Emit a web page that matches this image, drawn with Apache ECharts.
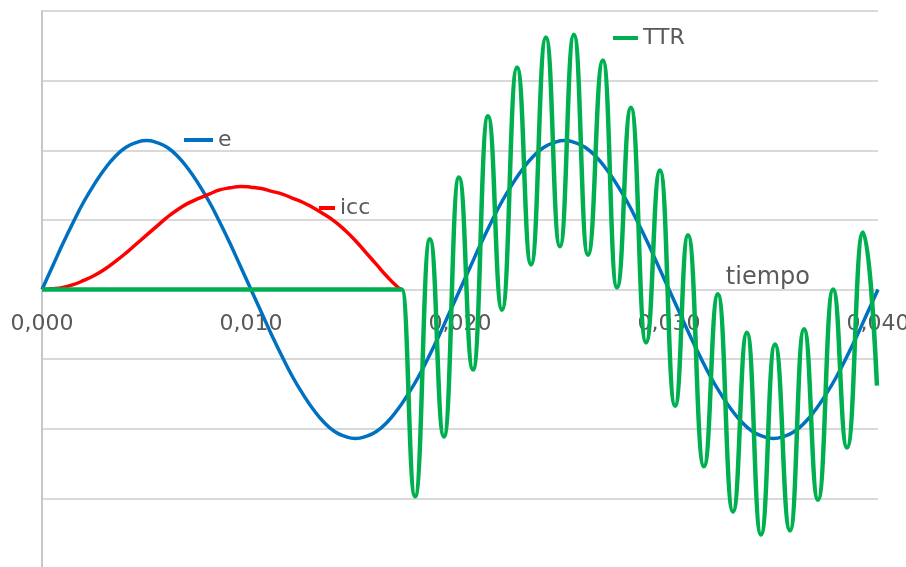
<!DOCTYPE html>
<html>
<head>
<meta charset="utf-8">
<script src="https://cdn.jsdelivr.net/npm/echarts@6/dist/echarts.min.js"></script>
<style>
  html, body { margin: 0; padding: 0; background: #ffffff; }
  #chart { width: 906px; height: 567px; }
</style>
</head>
<body>
<div id="chart"></div>
<script>
// Time axis (seconds) and its tick labels
const xTicks = [0, 0.01, 0.02, 0.03, 0.04];
const xTickLabels = ['0,000', '0,010', '0,020', '0,030', '0,040'];
const xStep = 0.01;

// Source voltage e, sampled every half millisecond
const eTimesMs = [0, 0.5, 1, 1.5, 2, 2.5, 3, 3.5, 4, 4.5, 5, 5.5, 6, 6.5, 7, 7.5, 8, 8.5, 9, 9.5,
  10, 10.5, 11, 11.5, 12, 12.5, 13, 13.5, 14, 14.5, 15, 15.5, 16, 16.5, 17, 17.5, 18, 18.5, 19, 19.5,
  20, 20.5, 21, 21.5, 22, 22.5, 23, 23.5, 24, 24.5, 25, 25.5, 26, 26.5, 27, 27.5, 28, 28.5, 29, 29.5,
  30, 30.5, 31, 31.5, 32, 32.5, 33, 33.5, 34, 34.5, 35, 35.5, 36, 36.5, 37, 37.5, 38, 38.5, 39, 39.5, 40];
const eValues = [0, 0.33, 0.66, 0.97, 1.26, 1.51, 1.73, 1.91, 2.04, 2.11, 2.14, 2.11, 2.04, 1.91, 1.73, 1.51, 1.26, 0.97, 0.66, 0.33,
  0, -0.33, -0.66, -0.97, -1.26, -1.51, -1.73, -1.91, -2.04, -2.11, -2.14, -2.11, -2.04, -1.91, -1.73, -1.51, -1.26, -0.97, -0.66, -0.33,
  0, 0.33, 0.66, 0.97, 1.26, 1.51, 1.73, 1.91, 2.04, 2.11, 2.14, 2.11, 2.04, 1.91, 1.73, 1.51, 1.26, 0.97, 0.66, 0.33,
  0, -0.33, -0.66, -0.97, -1.26, -1.51, -1.73, -1.91, -2.04, -2.11, -2.14, -2.11, -2.04, -1.91, -1.73, -1.51, -1.26, -0.97, -0.66, -0.33, 0];

// Short-circuit current icc until the breaker clears it
const iccTimesMs = [0, 0.5, 1, 1.5, 2, 2.5, 3, 3.5, 4, 4.5, 5, 5.5, 6, 6.5, 7, 7.5, 8, 8.5, 9, 9.5,
  10, 10.5, 11, 11.5, 12, 12.5, 13, 13.5, 14, 14.5, 15, 15.5, 16, 16.5, 17, 17.2];
const iccValues = [0, 0.01, 0.03, 0.07, 0.13, 0.20, 0.29, 0.40, 0.52, 0.65, 0.78, 0.91, 1.04, 1.15, 1.24, 1.31, 1.37, 1.43, 1.46, 1.48,
  1.47, 1.45, 1.41, 1.37, 1.31, 1.25, 1.17, 1.08, 0.98, 0.85, 0.70, 0.53, 0.36, 0.19, 0.04, 0];

// Transient recovery voltage TTR: flat until interruption, then its peaks and troughs
const ttrTimesMs = [0, 17.22, 17.85, 18.56, 19.23, 19.95, 20.62, 21.34, 22.01, 22.73,
  23.40, 24.11, 24.78, 25.45, 26.12, 26.84, 27.51, 28.18, 28.90, 29.57, 30.29,
  30.91, 31.67, 32.34, 33.06, 33.73, 34.40, 35.07, 35.79, 36.46, 37.13, 37.85,
  38.52, 39.28, 39.95];
const ttrValues = [0, 0, -2.97, 0.72, -2.11, 1.61, -1.15, 2.49, -0.29, 3.19,
  0.36, 3.62, 0.62, 3.66, 0.50, 3.29, 0.03, 2.61, -0.76, 1.71, -1.67,
  0.78, -2.54, -0.07, -3.19, -0.62, -3.52, -0.79, -3.46, -0.57, -3.02, 0,
  -2.27, 0.82, -1.38];

const pairs = (times, values) => times.map((t, i) => [t / 1000, values[i]]);

const labelColor = '#595959';
const fontFamily = 'DejaVu Sans';

// Plot area; the time axis sits on the zero line, half way down the grid
const gridTop = 11;
const gridHeight = 557;
const yMin = -4;
const yMax = 4;

const chart = echarts.init(document.getElementById('chart'), null, { renderer: 'canvas' });

const legendBase = {
  orient: 'horizontal',
  padding: 0,
  itemGap: 0,
  itemHeight: 4,
  icon: 'rect',
  selectedMode: false,
  textStyle: { color: labelColor, fontFamily: fontFamily, fontSize: 22, lineHeight: 24 }
};

chart.setOption({
  animation: false,
  backgroundColor: '#ffffff',
  grid: { left: 42, right: 28, top: gridTop, height: gridHeight, containLabel: false, outerBoundsMode: 'none' },
  legend: [
    Object.assign({}, legendBase, { data: ['e'], left: 184, top: 128, itemWidth: 29 }),
    Object.assign({}, legendBase, { data: ['icc'], left: 319, top: 196, itemWidth: 16 }),
    Object.assign({}, legendBase, { data: ['TTR'], left: 613, top: 26, itemWidth: 25 })
  ],
  xAxis: {
    type: 'value',
    position: 'bottom',
    // lift the axis from the bottom edge up to y = 0
    offset: -gridHeight * (0 - yMin) / (yMax - yMin),
    min: xTicks[0],
    max: xTicks[xTicks.length - 1],
    interval: xStep,
    name: 'tiempo',
    nameLocation: 'end',
    nameGap: -68,
    nameTextStyle: {
      color: labelColor, fontFamily: fontFamily, fontSize: 24, lineHeight: 24,
      align: 'right', verticalAlign: 'bottom'
    },
    axisLine: { show: true, onZero: false, lineStyle: { color: '#d9d9d9', width: 2 } },
    axisTick: { show: false },
    splitLine: { show: false },
    axisLabel: {
      show: true,
      color: labelColor, fontFamily: fontFamily, fontSize: 22, lineHeight: 22, margin: 24,
      showMinLabel: true, showMaxLabel: true, hideOverlap: false,
      formatter: function (v) {
        const i = Math.round(Number(v) / xStep);
        return xTickLabels[i] !== undefined ? xTickLabels[i] : '';
      }
    }
  },
  yAxis: {
    type: 'value',
    min: yMin,
    max: yMax,
    interval: 1,
    axisLine: { show: true, onZero: false, lineStyle: { color: '#c8c8c8', width: 2 } },
    axisTick: { show: false },
    axisLabel: { show: false },
    splitLine: { show: true, lineStyle: { color: '#d9d9d9', width: 2 } }
  },
  series: [
    {
      name: 'e', type: 'line', data: pairs(eTimesMs, eValues),
      smooth: true, showSymbol: false, color: '#0070C0',
      lineStyle: { color: '#0070C0', width: 3.5 }
    },
    {
      name: 'icc', type: 'line', data: pairs(iccTimesMs, iccValues),
      smooth: true, showSymbol: false, color: '#FF0000',
      lineStyle: { color: '#FF0000', width: 3.5 }
    },
    {
      name: 'TTR', type: 'line', data: pairs(ttrTimesMs, ttrValues),
      smooth: 0.5, smoothMonotone: 'x', showSymbol: false, color: '#00B050',
      lineStyle: { color: '#00B050', width: 4.5 }
    }
  ]
});
</script>
</body>
</html>
